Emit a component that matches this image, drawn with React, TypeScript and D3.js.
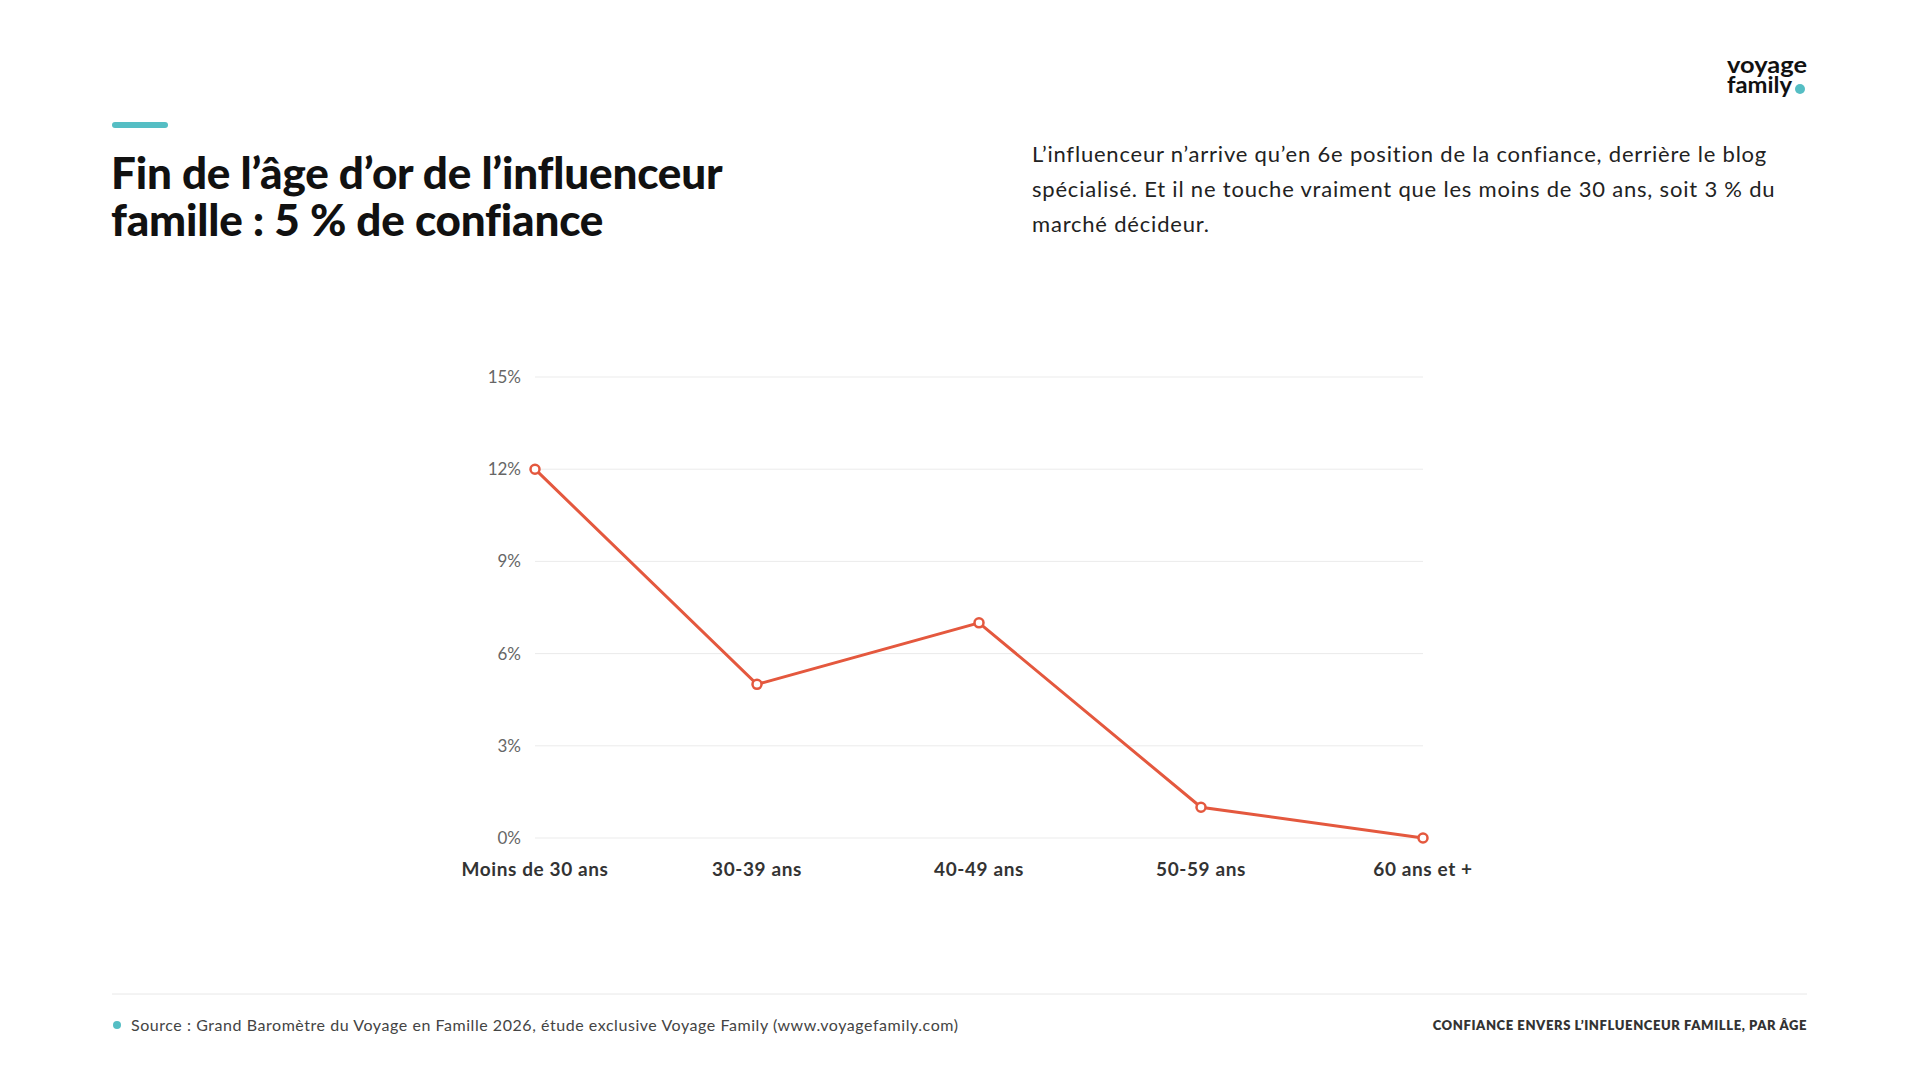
import React, { useEffect, useRef } from "react";
import * as d3 from "d3";

// Confiance envers l'influenceur famille, par tranche d'âge (en %)
const ageGroups = ["Moins de 30 ans", "30-39 ans", "40-49 ans", "50-59 ans", "60 ans et +"];
const trustValues = [12, 5, 7, 1, 0];
const yTicks = [0, 3, 6, 9, 12, 15];

const titleLines = ["Fin de l’âge d’or de l’influenceur", "famille : 5 % de confiance"];
const introLines = [
  "L’influenceur n’arrive qu’en 6e position de la confiance, derrière le blog",
  "spécialisé. Et il ne touche vraiment que les moins de 30 ans, soit 3 % du",
  "marché décideur.",
];
const sourceText =
  "Source : Grand Baromètre du Voyage en Famille 2026, étude exclusive Voyage Family (www.voyagefamily.com)";
const chartLabel = "CONFIANCE ENVERS L’INFLUENCEUR FAMILLE, PAR ÂGE";

const W = 1920;
const H = 1080;
const TEAL = "#55bec4";
const RED = "#e4583e";
const FONT = "Lato, 'Noto Sans', sans-serif";

export default function App() {
  const chartRef = useRef<SVGGElement>(null);

  useEffect(() => {
    const g = d3.select(chartRef.current);
    g.selectAll("*").remove();

    const x = d3.scalePoint<string>().domain(ageGroups).range([535, 1423]);
    const y = d3.scaleLinear().domain([0, 15]).range([838, 377]);

    // horizontal grid
    g.append("g")
      .selectAll("line")
      .data(yTicks)
      .join("line")
      .attr("x1", x.range()[0])
      .attr("x2", x.range()[1])
      .attr("y1", (d) => y(d))
      .attr("y2", (d) => y(d))
      .attr("stroke", "#ebebeb")
      .attr("stroke-width", 1);

    // y tick labels
    g.append("g")
      .selectAll("text")
      .data(yTicks)
      .join("text")
      .attr("x", 521)
      .attr("y", (d) => y(d))
      .attr("dy", "0.35em")
      .attr("text-anchor", "end")
      .attr("font-family", FONT)
      .attr("font-size", 17)
      .attr("fill", "#666")
      .text((d) => `${d}%`);

    // x labels
    g.append("g")
      .selectAll("text")
      .data(ageGroups)
      .join("text")
      .attr("x", (d) => x(d)!)
      .attr("y", 869)
      .attr("dy", "0.35em")
      .attr("text-anchor", "middle")
      .attr("font-family", FONT)
      .attr("font-size", 19)
      .attr("font-weight", 700)
      .attr("letter-spacing", 0.6)
      .attr("fill", "#333")
      .text((d) => d);

    const pts = ageGroups.map((a, i) => ({ a, v: trustValues[i] }));

    const lineGen = d3
      .line<{ a: string; v: number }>()
      .x((d) => x(d.a)!)
      .y((d) => y(d.v));

    g.append("path")
      .datum(pts)
      .attr("d", lineGen)
      .attr("fill", "none")
      .attr("stroke", RED)
      .attr("stroke-width", 3);

    g.append("g")
      .selectAll("circle")
      .data(pts)
      .join("circle")
      .attr("cx", (d) => x(d.a)!)
      .attr("cy", (d) => y(d.v))
      .attr("r", 4.5)
      .attr("fill", "#fff")
      .attr("stroke", RED)
      .attr("stroke-width", 2.5);
  }, []);

  return (
    <svg
      width={W}
      height={H}
      viewBox={`0 0 ${W} ${H}`}
      style={{ position: "absolute", left: 0, top: 0, background: "#fff" }}
    >
      <rect width={W} height={H} fill="#fff" />

      {/* logo */}
      <g fontFamily={FONT} fontWeight={700} fill="#111" fontSize={23}>
        <text x={1727} y={73} textLength={80} lengthAdjust="spacingAndGlyphs">
          voyage
        </text>
        <text x={1727} y={93} textLength={65} lengthAdjust="spacingAndGlyphs">
          family
        </text>
        <circle cx={1800} cy={89} r={5} fill={TEAL} />
      </g>

      {/* heading */}
      <rect x={112} y={122} width={56} height={6} rx={3} fill={TEAL} />
      <g fontFamily={FONT} fontWeight={900} fontSize={44} fill="#111" letterSpacing={-0.2}>
        {titleLines.map((l, i) => (
          <text key={l} x={111} y={189 + i * 47}>
            {l}
          </text>
        ))}
      </g>

      <g fontFamily={FONT} fontSize={22} fill="#222" letterSpacing={0.8}>
        {introLines.map((l, i) => (
          <text key={l} x={1032} y={162 + i * 35}>
            {l}
          </text>
        ))}
      </g>

      <g ref={chartRef} />

      {/* footer */}
      <line x1={112} x2={1807} y1={994} y2={994} stroke="#e8e8e8" strokeWidth={1} />
      <circle cx={117} cy={1025} r={4} fill={TEAL} />
      <text x={131} y={1031} fontFamily={FONT} fontSize={16} fill="#444" letterSpacing={0.55}>
        {sourceText}
      </text>
      <text
        x={1807}
        y={1030}
        textAnchor="end"
        fontFamily={FONT}
        fontSize={13}
        fontWeight={800}
        fill="#333"
        letterSpacing={0.6}
      >
        {chartLabel}
      </text>
    </svg>
  );
}
